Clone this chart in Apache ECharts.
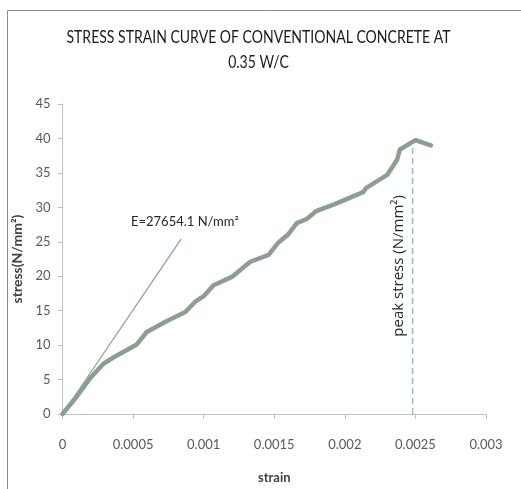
<!DOCTYPE html>
<html>
<head>
<meta charset="utf-8">
<script src="https://cdn.jsdelivr.net/npm/echarts@6/dist/echarts.min.js"></script>
<style>
html,body{margin:0;padding:0;background:#fff;}
#chart{width:521px;height:489px;}
</style>
</head>
<body>
<div id="chart"></div>
<script>
var strain = [0, 0.0001, 0.0002, 0.00029, 0.000385, 0.000526, 0.000597, 0.00074, 0.00087, 0.00094, 0.001, 0.00107, 0.0012, 0.00133, 0.00146, 0.00153, 0.0016, 0.00166, 0.00173, 0.0018, 0.00192, 0.00213, 0.00215, 0.0023, 0.00237, 0.00239, 0.0025, 0.00261];
var stress = [0, 2.5, 5.3, 7.3, 8.5, 10.1, 11.9, 13.5, 14.8, 16.3, 17.1, 18.7, 19.9, 22.1, 23.1, 24.9, 26.1, 27.7, 28.3, 29.5, 30.4, 32.2, 32.8, 34.7, 36.9, 38.4, 39.75, 39.0];
var eLineStrain = [0, 0.00084];
var eLineStress = [0, 25.4];
var peakStrain = [0.00248, 0.00248];
var peakStress = [0, 39.7];
var xTicks = ['0', '0.0005', '0.001', '0.0015', '0.002', '0.0025', '0.003'];
var yTicks = ['0', '5', '10', '15', '20', '25', '30', '35', '40', '45'];
var titleLines = ['STRESS STRAIN CURVE OF CONVENTIONAL CONCRETE AT', '0.35 W/C'];
var eLabel = 'E=27654.1 N/mm²';
var peakLabel = 'peak stress (N/mm²)';

var FONT = 'Lato, sans-serif';
function pairs(xs, ys){ return xs.map(function(x,i){ return [x, ys[i]]; }); }

var chart = echarts.init(document.getElementById('chart'));
var option = {
  animation: false,
  backgroundColor: '#ffffff',
  grid: {left: 62.5, right: 35, top: 104, bottom: 72},
  xAxis: {
    type: 'value', min: 0, max: 0.003, interval: 0.0005,
    name: 'strain', nameLocation: 'middle', nameGap: 57,
    nameTextStyle: {fontFamily: FONT, fontSize: 13, fontWeight: 'bold', color: '#404040'},
    axisLine: {show: true, lineStyle: {color: '#c0c0c0', width: 1}},
    axisTick: {show: true, length: 5, lineStyle: {color: '#c0c0c0'}},
    splitLine: {show: false},
    axisLabel: {fontFamily: FONT, fontSize: 13, color: '#595959', margin: 24,
      formatter: function(v){ return xTicks[Math.round(v/0.0005)]; }}
  },
  yAxis: {
    type: 'value', min: 0, max: 45, interval: 5,
    name: 'stress(N/mm²)', nameLocation: 'middle', nameGap: 36, nameRotate: 90,
    nameTextStyle: {fontFamily: FONT, fontSize: 14, fontWeight: 'bold', color: '#404040'},
    axisLine: {show: true, lineStyle: {color: '#c0c0c0', width: 1}},
    axisTick: {show: true, length: 5, lineStyle: {color: '#c0c0c0'}},
    splitLine: {show: false},
    axisLabel: {fontFamily: FONT, fontSize: 13, color: '#595959', margin: 12,
      formatter: function(v){ return yTicks[Math.round(v/5)]; }}
  },
  series: [
    {type: 'line', data: pairs(eLineStrain, eLineStress), symbol: 'none', z: 2,
     lineStyle: {color: '#8fa294', width: 1.3}},
    {type: 'line', data: pairs(peakStrain, peakStress), symbol: 'none', z: 2,
     lineStyle: {color: '#a9b9ad', width: 1.5, type: [6, 4]}},
    {type: 'line', data: pairs(strain, stress), symbol: 'none', z: 3,
     lineStyle: {color: '#8b9f91', width: 4.5, join: 'round', cap: 'round'}}
  ]
};
chart.setOption(option);

var pE = chart.convertToPixel({gridIndex: 0}, [0.000485, 27.9]);
var pP = chart.convertToPixel({gridIndex: 0}, [0.002383, 21.5]);
chart.setOption({
  graphic: [
    {type: 'rect', shape: {x: 7.5, y: 10.5, width: 600, height: 600}, silent: true,
     style: {fill: null, stroke: '#8c8c8c', lineWidth: 1}},
    {type: 'text', x: 258.5, y: 38, scaleX: 0.85,
     style: {text: titleLines[0], fontFamily: FONT, fontSize: 16.5, fontWeight: 'normal', fill: '#1a1a1a', align: 'center', verticalAlign: 'middle'}},
    {type: 'text', x: 258.5, y: 63, scaleX: 0.85,
     style: {text: titleLines[1], fontFamily: FONT, fontSize: 16.5, fontWeight: 'normal', fill: '#1a1a1a', align: 'center', verticalAlign: 'middle'}},
    {type: 'text', x: pE[0], y: pE[1],
     style: {text: eLabel, fontFamily: FONT, fontSize: 13, fill: '#262626', align: 'left', verticalAlign: 'middle'}},
    {type: 'text', x: pP[0], y: pP[1], rotation: Math.PI/2,
     style: {text: peakLabel, fontFamily: '"Open Sans", sans-serif', fontSize: 15, fill: '#262626', align: 'center', verticalAlign: 'middle'}}
  ]
});
</script>
</body>
</html>
